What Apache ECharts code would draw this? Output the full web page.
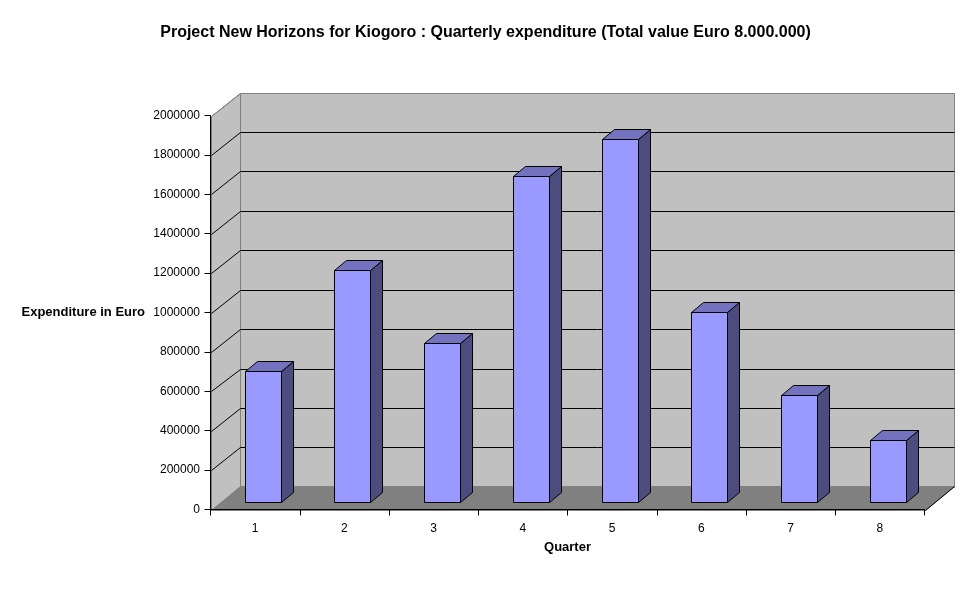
<!DOCTYPE html>
<html><head><meta charset="utf-8">
<style>html,body{margin:0;padding:0;background:#fff}#c{width:970px;height:604px}</style>
<script src="https://cdn.jsdelivr.net/npm/echarts@6/dist/echarts.min.js"></script>
</head><body><div id="c"></div>
<script>
const chartTitle = 'Project New Horizons for Kiogoro : Quarterly expenditure (Total value Euro 8.000.000)';
const quarters = ['1','2','3','4','5','6','7','8'];
const expenditure = [665000,1180000,808000,1657000,1845000,966000,544000,315000];
const yTicks = [200000,400000,600000,800000,1000000,1200000,1400000,1600000,1800000,2000000];

const DEPTH = {x:29.5, y:-22.8};      // back wall offset from the front axis plane
const FLOOR_DY = -23.5;               // back edge of the floor
const BAR_FRONT = {x:8, y:-7.5};      // bar front face inside the depth
const BAR_BACK = {x:20, y:-17.5};     // bar rear face inside the depth
const BAR_WIDTH = 36;
const GREY='#808080', WALL='#c0c0c0';

const snap = v => Math.round(v)+0.5;
function poly(points, fill, stroke, w){
  return {type:'polygon',shape:{points:points.map(p=>[snap(p[0]),snap(p[1])])},
    style:{fill,stroke:stroke||fill,lineWidth:w||1}};
}
function seg(a,b,c){
  return {type:'line',shape:{x1:snap(a[0]),y1:snap(a[1]),x2:snap(b[0]),y2:snap(b[1])},
    style:{stroke:c,lineWidth:1,fill:null}};
}

const chart = echarts.init(document.getElementById('c'),null,{renderer:'canvas'});
chart.setOption({
  animation:false,
  backgroundColor:'#fff',
  title:{text:chartTitle,left:480.5,top:19,textAlign:'center',
    textStyle:{fontFamily:'Liberation Sans',fontSize:16,fontWeight:'bold',color:'#000',lineHeight:18}},
  grid:{left:210.5,right:45.5,top:115.5,bottom:94.5,containLabel:false},
  xAxis:{type:'category',data:quarters,boundaryGap:true,z:10,
    name:'Quarter',nameLocation:'middle',nameGap:31,
    nameTextStyle:{fontFamily:'Liberation Sans',fontSize:13,fontWeight:'bold',color:'#000'},
    axisLine:{lineStyle:{color:'#000',width:1}},
    axisTick:{show:true,length:6,alignWithLabel:false,lineStyle:{color:'#000'}},
    axisLabel:{margin:13,fontFamily:'Liberation Sans',fontSize:12,color:'#000'},
    splitLine:{show:false}},
  yAxis:{type:'value',min:0,max:2000000,interval:200000,z:10,
    name:'Expenditure in Euro',nameLocation:'middle',nameRotate:0,nameGap:65.5,
    nameTextStyle:{fontFamily:'Liberation Sans',fontSize:13,fontWeight:'bold',color:'#000'},
    axisLine:{show:true,lineStyle:{color:'#000',width:1}},
    axisTick:{show:true,length:6,lineStyle:{color:'#000'}},
    axisLabel:{margin:10.5,fontFamily:'Liberation Sans',fontSize:12,color:'#000',formatter:v=>String(v)},
    splitLine:{show:false}},
  series:[
    {type:'custom',coordinateSystem:'cartesian2d',z:1,silent:true,clip:false,
     data:[[0,0]],encode:{x:0,y:1},
     renderItem(params,api){
       const cs=params.coordSys, l=cs.x, r=cs.x+cs.width, t=cs.y, b=cs.y+cs.height;
       const dx=DEPTH.x, dy=DEPTH.y;
       return {type:'group',children:[
         poly([[l+dx,t+dy],[r+dx,t+dy],[r+dx,b+dy],[l+dx,b+dy]],WALL,GREY),
         poly([[l,t],[l+dx,t+dy],[l+dx,b+dy],[l,b]],WALL,GREY),
         poly([[l,b],[r,b],[r+dx,b+FLOOR_DY],[l+dx,b+FLOOR_DY]],GREY,GREY),
         seg([r,b],[r+dx,b+FLOOR_DY],'#000')
       ]};
     }},
    {type:'custom',coordinateSystem:'cartesian2d',z:2,silent:true,clip:false,
     data:yTicks.map(v=>[0,v]),encode:{x:0,y:1},
     renderItem(params,api){
       const cs=params.coordSys, v=api.value(1), y=api.coord([0,v])[1];
       const l=cs.x, r=cs.x+cs.width, dx=DEPTH.x, dy=DEPTH.y;
       const top = v===2000000;
       const children=[seg([l,y],[l+dx,y+dy],top?GREY:'#000')];
       if(!top) children.push(seg([l+dx,y+dy],[r+dx,y+dy],'#000'));
       return {type:'group',children};
     }},
    {type:'custom',coordinateSystem:'cartesian2d',z:3,clip:false,
     data:expenditure.map((v,i)=>[i,v]),encode:{x:0,y:1},
     renderItem(params,api){
       const i=api.value(0), p=api.coord([i,api.value(1)]), o=api.coord([i,0]);
       const h=BAR_WIDTH/2;
       const xl=p[0]-h+BAR_FRONT.x, xr=p[0]+h+BAR_FRONT.x;
       const yt=p[1]+BAR_FRONT.y, yb=o[1]+BAR_FRONT.y;
       const ox=BAR_BACK.x-BAR_FRONT.x, oy=BAR_BACK.y-BAR_FRONT.y;
       return {type:'group',children:[
         poly([[xr,yt],[xr+ox,yt+oy],[xr+ox,yb+oy],[xr,yb]],'#4c4c7f','#000'),
         poly([[xl,yt],[xl+ox,yt+oy],[xr+ox,yt+oy],[xr,yt]],'#7272bf','#000'),
         poly([[xl,yt],[xr,yt],[xr,yb],[xl,yb]],'#9999ff','#000')
       ]};
     }}
  ]
});
</script></body></html>
